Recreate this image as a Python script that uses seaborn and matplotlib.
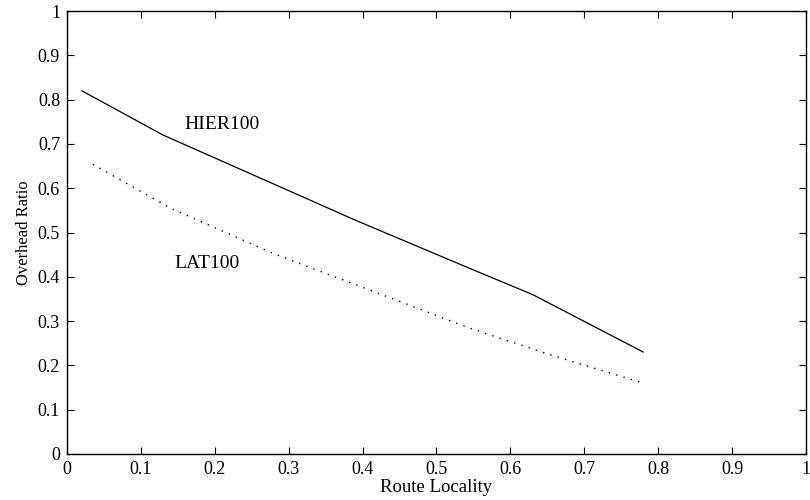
import matplotlib
matplotlib.use("Agg")
import matplotlib.pyplot as plt
import pandas as pd
import seaborn as sns

# values
hier_x = [0.02, 0.13, 0.39, 0.545, 0.63, 0.78]
hier_y = [0.82, 0.72, 0.528, 0.419, 0.36, 0.23]
lat_x = [0.035, 0.14, 0.28, 0.41, 0.545, 0.655, 0.78]
lat_y = [0.654, 0.555, 0.452, 0.370, 0.284, 0.2235, 0.160]
ticks = [0, 0.1, 0.2, 0.3, 0.4, 0.5, 0.6, 0.7, 0.8, 0.9, 1]
tick_labels = ["0", "0.1", "0.2", "0.3", "0.4", "0.5", "0.6", "0.7", "0.8", "0.9", "1"]

hier = pd.DataFrame({"x": hier_x, "y": hier_y})
lat = pd.DataFrame({"x": lat_x, "y": lat_y})

sns.set_theme(style="ticks")
plt.rcParams["font.family"] = ["Liberation Serif", "DejaVu Serif"]
plt.rcParams["text.color"] = "black"
plt.rcParams["axes.labelcolor"] = "black"

fig = plt.figure(figsize=(8.1, 5.0), dpi=100)
ax = fig.add_axes([0.0827, 0.092, 0.9123, 0.886])

sns.lineplot(data=hier, x="x", y="y", ax=ax, color="black", lw=0.9,
             sort=False, estimator=None)
sns.lineplot(data=lat, x="x", y="y", ax=ax, color="black", lw=1.0,
             linestyle=(0, (1, 4.5)), sort=False, estimator=None)

ax.set_xlim(0, 1)
ax.set_ylim(0, 1)
ax.set_xticks(ticks)
ax.set_xticklabels(tick_labels)
ax.set_yticks(ticks)
ax.set_yticklabels(tick_labels)
ax.tick_params(direction="in", length=5, width=0.8, top=True, right=True,
               labelsize=13, colors="black", labelcolor="black", pad=5)
for s in ax.spines.values():
    s.set_visible(True)
    s.set_color("black")
    s.set_linewidth(1.0)

ax.set_xlabel("Route Locality", fontsize=13.5, labelpad=1, color="black")
ax.set_ylabel("Overhead Ratio", fontsize=12, labelpad=4, color="black")

ax.text(0.159, 0.743, "HIER100", fontsize=14, va="center", ha="left", color="black")
ax.text(0.146, 0.429, "LAT100", fontsize=14, va="center", ha="left", color="black")

fig.savefig("out.png", dpi=100)
